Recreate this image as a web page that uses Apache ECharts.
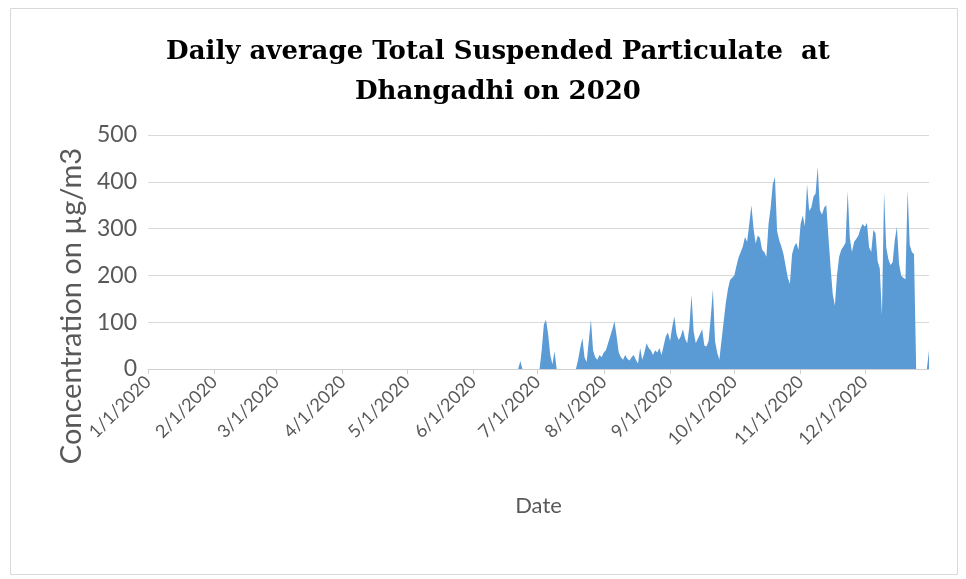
<!DOCTYPE html>
<html><head><meta charset="utf-8">
<script src="https://cdn.jsdelivr.net/npm/echarts@6/dist/echarts.min.js"></script>
<style>html,body{margin:0;padding:0;background:#fff}#c{width:966px;height:579px}</style>
</head><body><div id="c"></div>
<script>
// ---- data ----
const titleLines = ['Daily average Total Suspended Particulate  at', 'Dhangadhi on 2020'];
const yAxisTitle = 'Concentration on µg/m3';
const xAxisTitle = 'Date';
// day-of-year index (0 = 1/1/2020) of each month start, and their tick labels
const monthStartDays = [0, 31, 60, 91, 121, 152, 182, 213, 244, 274, 305, 335];
const monthTickLabels = ['1/1/2020', '2/1/2020', '3/1/2020', '4/1/2020', '5/1/2020', '6/1/2020',
  '7/1/2020', '8/1/2020', '9/1/2020', '10/1/2020', '11/1/2020', '12/1/2020'];
const yTickValues = [0, 100, 200, 300, 400, 500];
const lastDay = 365;           // 12/31/2020
const firstDataDay = 170;      // 6/19/2020; values before this are 0 / missing
// daily average TSP (µg/m3), one value per day from firstDataDay to lastDay
const tspValues = [
  0, 0, 0, 0, 17, 0, 0, 0, 0, 0,                 // 170-179
  0, 0, 0, 0, 40, 95, 105, 75, 30, 10,           // 180-189
  38, 0, 0, 0, 0, 0, 0, 0, 0, 0,                 // 190-199
  0, 20, 45, 66, 25, 15, 60, 105, 40, 25,        // 200-209
  20, 30, 25, 35, 40, 55, 70, 85, 102, 70,       // 210-219
  35, 25, 20, 30, 22, 18, 25, 30, 20, 12,        // 220-229
  45, 20, 35, 55, 45, 40, 30, 40, 35, 45,        // 230-239
  30, 50, 70, 78, 60, 90, 112, 75, 62, 70,       // 240-249
  85, 65, 55, 90, 158, 80, 55, 65, 75, 85,       // 250-259
  50, 48, 60, 110, 170, 60, 35, 20, 60, 100,     // 260-269
  140, 170, 190, 195, 200, 220, 238, 250, 262, 282, // 270-279
  272, 310, 350, 300, 268, 285, 280, 255, 250, 240, // 280-289
  310, 345, 395, 410, 295, 275, 262, 245, 220, 195, // 290-299
  182, 245, 262, 270, 255, 310, 328, 305, 395, 338, // 300-309
  345, 368, 375, 432, 340, 330, 345, 350, 282, 218, // 310-319
  160, 135, 200, 240, 255, 262, 270, 380, 280, 250, // 320-329
  272, 278, 285, 300, 310, 304, 312, 260, 250, 297, // 330-339
  290, 230, 215, 115, 378, 260, 235, 222, 228, 275, // 340-349
  304, 225, 200, 195, 192, 382, 265, 250, 245, 0,   // 350-359
  0, 0, 0, 0, 0, 40                                 // 360-365
];

// ---- chart ----
const seriesData = tspValues.map((v, i) => [firstDataDay + i, v]);
const labelByDay = {};
monthStartDays.forEach((d, i) => { labelByDay[d] = monthTickLabels[i]; });

const labelFont = 'Lato';
const gray = '#595959';
const chart = echarts.init(document.getElementById('c'), null, { renderer: 'canvas' });
chart.setOption({
  animation: false,
  backgroundColor: '#ffffff',
  title: {
    text: titleLines.join('\n'),
    left: 493, top: 27, textAlign: 'center',
    textStyle: { fontFamily: 'DejaVu Serif', fontWeight: 'bold', fontSize: 26, lineHeight: 40, color: '#000' }
  },
  grid: { left: 148, right: 37, top: 135, bottom: 210, containLabel: false },
  xAxis: {
    type: 'value', min: 0, max: lastDay,
    name: xAxisTitle, nameLocation: 'middle', nameGap: 126,
    nameTextStyle: { fontFamily: labelFont, fontSize: 22, color: gray },
    axisLine: { show: true, lineStyle: { color: '#d0d0d0', width: 1 } },
    axisTick: { show: true, customValues: monthStartDays, length: 5, lineStyle: { color: '#d0d0d0' } },
    axisLabel: {
      customValues: monthStartDays, rotate: 45, margin: 10,
      formatter: v => labelByDay[v] || '',
      fontFamily: labelFont, fontSize: 18, color: gray
    },
    splitLine: { show: false }
  },
  yAxis: {
    type: 'value', min: yTickValues[0], max: yTickValues[yTickValues.length - 1], interval: 100,
    axisLine: { show: false }, axisTick: { show: false },
    axisLabel: { fontFamily: labelFont, fontSize: 23, color: gray, margin: 11 },
    splitLine: { lineStyle: { color: '#d9d9d9', width: 1 } }
  },
  graphic: [
    { type: 'rect', shape: { x: 10.5, y: 8.5, width: 947, height: 566 }, style: { fill: 'none', stroke: '#d9d9d9', lineWidth: 1 }, silent: true },
    { type: 'text', x: 72, y: 306, rotation: Math.PI / 2,
      style: { text: yAxisTitle, fontFamily: labelFont, fontSize: 29, fill: gray, align: 'center', verticalAlign: 'middle' } }
  ],
  series: [{
    type: 'line', data: seriesData, symbol: 'none', showSymbol: false,
    lineStyle: { width: 0, color: '#5b9bd5' },
    itemStyle: { color: '#5b9bd5' },
    areaStyle: { color: '#5b9bd5', opacity: 1 }
  }]
});
</script></body></html>
